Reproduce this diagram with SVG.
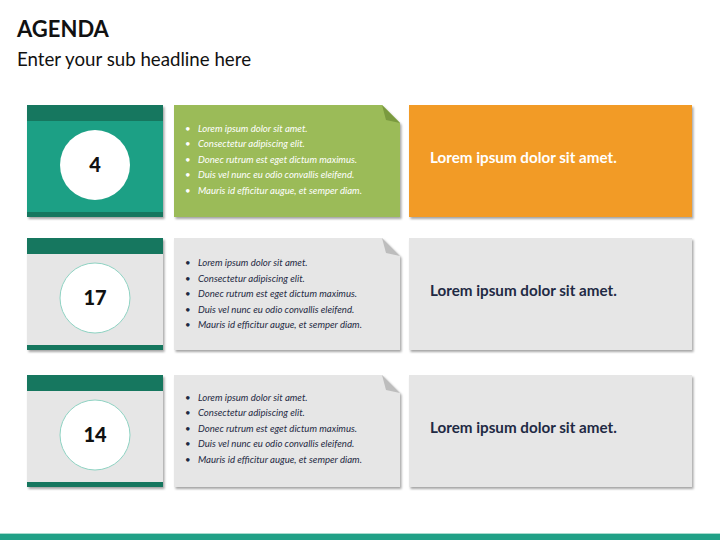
<svg xmlns="http://www.w3.org/2000/svg" width="720" height="540" viewBox="0 0 720 540">
<defs>
<filter id="sh" x="-5%" y="-5%" width="115%" height="120%">
<feDropShadow dx="1.5" dy="2" stdDeviation="1" flood-color="#000" flood-opacity="0.35"/>
</filter>
<style>
.title{font-family:Lato,"Open Sans",sans-serif;font-weight:bold;font-size:22px;fill:#111}
.sub{font-family:Lato,"Open Sans",sans-serif;font-size:18.7px;fill:#111}
.bul{font-family:Lato,"Open Sans",sans-serif;font-style:italic;font-size:9.6px}
.num{font-family:Lato,"Open Sans",sans-serif;font-weight:900;font-size:20px;fill:#111;text-anchor:middle}
.rt{font-family:Lato,"Open Sans",sans-serif;font-weight:bold;font-size:15.2px}
.band{fill:#16775F}
</style>
</defs>
<rect width="720" height="540" fill="#fff"/>
<text class="title" x="17" y="37">AGENDA</text>
<text class="sub" x="17" y="66">Enter your sub headline here</text>

<g id="row1">
<g id="num1">
<rect x="27" y="105" width="136" height="112" fill="#1FA085" filter="url(#sh)"/>
<rect class="band" x="27" y="105" width="136" height="16"/>
<rect class="band" x="27" y="212" width="136" height="5"/>
<circle cx="95" cy="165" r="35" fill="#fff"/>
<text class="num" x="95" y="172" font-weight="bold">4</text>
</g>
<g id="list1">
<path d="M174,105 H382 L400,123 V217 H174 Z" fill="#9BBB59" filter="url(#sh)"/>
<path d="M382,105 L400,123 L386,120 Z" fill="#7A9A3F"/>
<g class="bul" fill="#fff">
<text x="185" y="132">•</text><text x="198" y="132">Lorem ipsum dolor sit amet.</text>
<text x="185" y="147">•</text><text x="198" y="147">Consectetur adipiscing elit.</text>
<text x="185" y="163">•</text><text x="198" y="163">Donec rutrum est eget dictum maximus.</text>
<text x="185" y="178">•</text><text x="198" y="178">Duis vel nunc eu odio convallis eleifend.</text>
<text x="185" y="194">•</text><text x="198" y="194">Mauris id efficitur augue, et semper diam.</text>
</g>
</g>
<g id="title1">
<rect x="409" y="105" width="283" height="112" fill="#F29B27" filter="url(#sh)"/>
<text class="rt" x="430" y="163" fill="#fff">Lorem ipsum dolor sit amet.</text>
</g>
</g>

<g id="row2">
<g id="num2">
<rect x="27" y="238" width="136" height="112" fill="#E6E6E6" filter="url(#sh)"/>
<rect class="band" x="27" y="238" width="136" height="16"/>
<rect class="band" x="27" y="345" width="136" height="5"/>
<circle cx="95" cy="298" r="35" fill="#fff" stroke="#8FD3C3" stroke-width="1"/>
<text class="num" x="95" y="305" font-weight="bold">17</text>
</g>
<g id="list2">
<path d="M174,238 H382 L400,256 V350 H174 Z" fill="#E6E6E6" filter="url(#sh)"/>
<path d="M382,238 L400,256 L386,253 Z" fill="#BDBDBD"/>
<g class="bul" fill="#1F2A44">
<text x="185" y="266">•</text><text x="198" y="266">Lorem ipsum dolor sit amet.</text>
<text x="185" y="282">•</text><text x="198" y="282">Consectetur adipiscing elit.</text>
<text x="185" y="297">•</text><text x="198" y="297">Donec rutrum est eget dictum maximus.</text>
<text x="185" y="313">•</text><text x="198" y="313">Duis vel nunc eu odio convallis eleifend.</text>
<text x="185" y="328">•</text><text x="198" y="328">Mauris id efficitur augue, et semper diam.</text>
</g>
</g>
<g id="title2">
<rect x="409" y="238" width="283" height="112" fill="#E6E6E6" filter="url(#sh)"/>
<text class="rt" x="430" y="296" fill="#1F2A44">Lorem ipsum dolor sit amet.</text>
</g>
</g>

<g id="row3">
<g id="num3">
<rect x="27" y="375" width="136" height="112" fill="#E6E6E6" filter="url(#sh)"/>
<rect class="band" x="27" y="375" width="136" height="16"/>
<rect class="band" x="27" y="482" width="136" height="5"/>
<circle cx="95" cy="435" r="35" fill="#fff" stroke="#8FD3C3" stroke-width="1"/>
<text class="num" x="95" y="442" font-weight="bold">14</text>
</g>
<g id="list3">
<path d="M174,375 H382 L400,393 V487 H174 Z" fill="#E6E6E6" filter="url(#sh)"/>
<path d="M382,375 L400,393 L386,390 Z" fill="#BDBDBD"/>
<g class="bul" fill="#1F2A44">
<text x="185" y="401">•</text><text x="198" y="401">Lorem ipsum dolor sit amet.</text>
<text x="185" y="416">•</text><text x="198" y="416">Consectetur adipiscing elit.</text>
<text x="185" y="432">•</text><text x="198" y="432">Donec rutrum est eget dictum maximus.</text>
<text x="185" y="447">•</text><text x="198" y="447">Duis vel nunc eu odio convallis eleifend.</text>
<text x="185" y="463">•</text><text x="198" y="463">Mauris id efficitur augue, et semper diam.</text>
</g>
</g>
<g id="title3">
<rect x="409" y="375" width="283" height="112" fill="#E6E6E6" filter="url(#sh)"/>
<text class="rt" x="430" y="433" fill="#1F2A44">Lorem ipsum dolor sit amet.</text>
</g>
</g>

<g id="connectors"></g>

<rect x="0" y="533" width="720" height="1" fill="#A8DCCF"/>
<rect x="0" y="534" width="720" height="6" fill="#21A187"/>
</svg>
